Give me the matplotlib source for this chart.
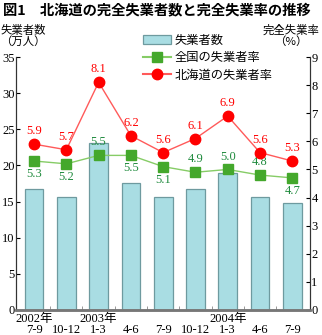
import matplotlib
matplotlib.use('Agg')
import matplotlib.pyplot as plt
from matplotlib.patches import Patch
from matplotlib.lines import Line2D

plt.rcParams['font.family'] = ['Liberation Serif', 'Noto Sans CJK JP']

periods = ['2002年\n7-9', '\n10-12', '2003年\n1-3', '\n4-6', '\n7-9',
           '\n10-12', '2004年\n1-3', '\n4-6', '\n7-9']
unemployed = [16.7, 15.6, 23.1, 17.6, 15.6, 16.7, 18.9, 15.6, 14.8]   # 万人
rate_japan = [5.3, 5.2, 5.5, 5.5, 5.1, 4.9, 5.0, 4.8, 4.7]
rate_hokkaido = [5.9, 5.7, 8.1, 6.2, 5.6, 6.1, 6.9, 5.6, 5.3]
japan_label_above = [False, False, True, False, False, True, True, True, False]

bar_fc = '#a9dde3'
bar_ec = '#6e9a9f'
green = '#44a82c'
green_line = '#86cc66'
green_txt = '#1e8a3c'
red = '#ff0000'
red_line = '#ff5a5a'

fig = plt.figure(figsize=(3.22, 3.35), dpi=100)
ax = fig.add_axes([16/322, 25/335, 294/322, 253/335])
ax2 = ax.twinx()

x = list(range(len(periods)))
ax.bar(x, unemployed, width=0.58, color=bar_fc, edgecolor=bar_ec, linewidth=0.9, zorder=2)
ax.set_xlim(-0.56, 8.55)
ax.set_ylim(0, 35)
ax.set_yticks(range(0, 36, 5))
ax.set_xticks(x)
ax.set_xticklabels(periods, fontsize=9, linespacing=0.95)
ax.set_xticks([i + 0.5 for i in range(len(periods) - 1)], minor=True)
ax.tick_params(axis='x', which='major', length=0, pad=2)
ax.tick_params(axis='x', which='minor', direction='in', length=3, color='#888888')
ax.tick_params(axis='y', direction='in', length=3, labelsize=9, pad=1)

ax2.plot(x, rate_japan, color=green_line, lw=1.0, marker='s', ms=6.5,
         mfc=green, mec=green, zorder=3)
ax2.plot(x, rate_hokkaido, color=red_line, lw=1.0, marker='o', ms=7.5,
         mfc=red, mec=red, zorder=4)
ax2.set_ylim(0, 9)
ax2.set_yticks(range(0, 10))
ax2.tick_params(axis='y', direction='in', length=3, labelsize=9, pad=1)

for i, v in enumerate(rate_hokkaido):
    ax2.annotate(f'{v:.1f}', (i, v), xytext=(0, 5), textcoords='offset points',
                 ha='center', va='bottom', color=red, fontsize=9)
for i, v in enumerate(rate_japan):
    off = 5 if japan_label_above[i] else -5
    ax2.annotate(f'{v:.1f}', (i, v), xytext=(0, off), textcoords='offset points',
                 ha='center', va='bottom' if off > 0 else 'top',
                 color=green_txt, fontsize=9)

for a in (ax, ax2):
    a.spines['top'].set_visible(False)
    a.spines['left'].set_color('#333333')
    a.spines['right'].set_color('#333333')
    a.spines['bottom'].set_color('#777777')
    a.spines['bottom'].set_linewidth(1.8)

handles = [Patch(facecolor=bar_fc, edgecolor=bar_ec, linewidth=0.9),
           Line2D([], [], color=green_line, marker='s', ms=6.5, mfc=green, mec=green),
           Line2D([], [], color=red_line, marker='o', ms=7.5, mfc=red, mec=red)]
ax.legend(handles, ['失業者数', '全国の失業者率', '北海道の失業者率'],
          loc='upper left', bbox_to_anchor=(143/322, 1 - 34/335),
          bbox_transform=fig.transFigure, frameon=False,
          prop={'family': 'Noto Sans CJK JP', 'size': 8.8},
          handlelength=2.3, handletextpad=0.3, labelspacing=0.35,
          borderaxespad=0, borderpad=0)

fig.text(3/322, 1 - 10/335, '図1　北海道の完全失業者数と完全失業率の推移',
         fontsize=10.3, fontweight='bold', family='Noto Sans CJK JP',
         ha='left', va='center')
fig.text(23/322, 1 - 36/335, '失業者数\n（万人）', fontsize=8.2,
         family='Noto Sans CJK JP', ha='center', va='center', linespacing=1.05)
fig.text(291/322, 1 - 36/335, '完全失業率\n（%）', fontsize=8.2,
         family='Noto Sans CJK JP', ha='center', va='center', linespacing=1.05)

plt.savefig('out.png', dpi=100)
